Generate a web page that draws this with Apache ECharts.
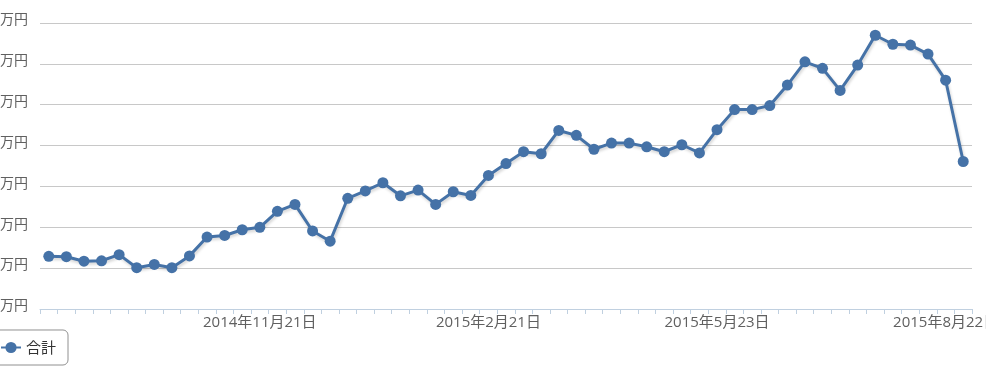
<!DOCTYPE html>
<html>
<head>
<meta charset="utf-8">
<script src="https://cdn.jsdelivr.net/npm/echarts@6/dist/echarts.min.js"></script>
<style>
html,body{margin:0;padding:0;background:#fff;overflow:hidden;}
#c{width:986px;height:366px;}
</style>
</head>
<body>
<div id="c"></div>
<script>
const categories = [
  '2014年8月29日','2014年9月5日','2014年9月12日','2014年9月19日','2014年9月26日','2014年10月3日','2014年10月10日',
  '2014年10月17日','2014年10月24日','2014年10月31日','2014年11月7日','2014年11月14日','2014年11月21日',
  '2014年11月29日','2014年12月6日','2014年12月13日','2014年12月20日','2014年12月27日','2015年1月3日',
  '2015年1月10日','2015年1月17日','2015年1月24日','2015年1月31日','2015年2月7日','2015年2月14日','2015年2月21日',
  '2015年2月28日','2015年3月7日','2015年3月14日','2015年3月21日','2015年3月28日','2015年4月4日','2015年4月11日',
  '2015年4月18日','2015年4月25日','2015年5月2日','2015年5月9日','2015年5月16日','2015年5月23日',
  '2015年5月30日','2015年6月6日','2015年6月13日','2015年6月20日','2015年6月27日','2015年7月4日','2015年7月11日',
  '2015年7月18日','2015年7月25日','2015年8月1日','2015年8月8日','2015年8月15日','2015年8月22日','2015年8月29日'
];
const totalValues = [
  1.29, 1.28, 1.17, 1.18, 1.33, 1.01, 1.09, 1.01, 1.30, 1.76, 1.80, 1.94, 2.00,
  2.39, 2.56, 1.91, 1.66, 2.71, 2.89, 3.09, 2.77, 2.91, 2.56, 2.87, 2.78, 3.27,
  3.56, 3.85, 3.80, 4.37, 4.25, 3.91, 4.06, 4.06, 3.97, 3.85, 4.02, 3.82, 4.39,
  4.88, 4.88, 4.98, 5.48, 6.05, 5.89, 5.35, 5.97, 6.70, 6.48, 6.46, 6.24, 5.60, 3.61
];
const seriesName = '合計';
const yUnit = '万円';

const chart = echarts.init(document.getElementById('c'), null, {renderer: 'canvas'});
const lineColor = '#4572A7';
chart.setOption({
  animation: false,
  grid: {left: 40, right: 14, top: 23, bottom: 57, containLabel: false, outerBoundsMode: 'none'},
  legend: {
    left: -6, bottom: 1,
    data: [seriesName],
    borderColor: '#909090', borderWidth: 1, borderRadius: 5,
    padding: [10, 12, 10, 6],
    itemWidth: 20, itemHeight: 14,
    textStyle: {fontSize: 15, color: '#333', fontFamily: '"Noto Sans CJK JP", sans-serif'}
  },
  xAxis: {
    type: 'category',
    data: categories,
    boundaryGap: true,
    axisLine: {lineStyle: {color: '#C0D0E0', width: 1}},
    axisTick: {show: true, interval: 0, length: 5, lineStyle: {color: '#C0D0E0'}},
    axisLabel: {
      interval: (i) => i >= 12 && (i - 12) % 13 === 0,
      margin: 6,
      fontSize: 15,
      color: '#606060',
      hideOverlap: false,
      fontFamily: '"Open Sans", "Noto Sans CJK JP", sans-serif'
    },
    splitLine: {show: false}
  },
  yAxis: {
    type: 'value',
    min: 0, max: 7, interval: 1,
    axisLine: {show: false},
    axisTick: {show: false},
    axisLabel: {
      formatter: () => '{u|' + yUnit + '}',
      margin: 12,
      rich: {
        u: {
          fontSize: 14,
          color: '#606060',
          padding: [0, 0, 8, 0],
          fontFamily: '"Noto Sans CJK JP", sans-serif'
        }
      }
    },
    splitLine: {lineStyle: {color: '#C8C8C8', width: 1}}
  },
  series: [{
    name: seriesName,
    type: 'line',
    data: totalValues,
    symbol: 'circle',
    symbolSize: 11,
    itemStyle: {color: lineColor},
    lineStyle: {
      color: lineColor, width: 3,
      shadowColor: 'rgba(0,0,0,0.18)', shadowBlur: 3, shadowOffsetX: 1, shadowOffsetY: 2
    }
  }]
});
</script>
</body>
</html>
